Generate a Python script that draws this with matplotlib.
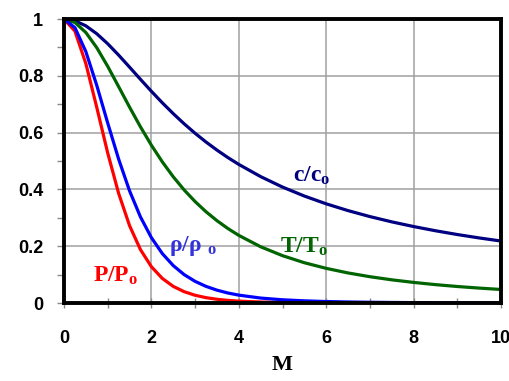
import matplotlib
matplotlib.use("Agg")
import matplotlib.pyplot as plt
from matplotlib.ticker import MultipleLocator

plt.rcParams['mathtext.fontset'] = 'custom'
plt.rcParams['mathtext.rm'] = 'Liberation Serif:bold'
plt.rcParams['mathtext.it'] = 'Liberation Serif:bold'
plt.rcParams['mathtext.bf'] = 'Liberation Serif:bold'

M = [0, 0.25, 0.5, 0.75, 1, 1.25, 1.5, 1.75, 2, 2.25, 2.5, 2.75, 3, 3.25, 3.5, 3.75,
     4, 4.5, 5, 5.5, 6, 6.5, 7, 7.5, 8, 8.5, 9, 9.5, 10]
c_c0 = [1, 0.9938, 0.9759, 0.9481, 0.9129, 0.8729, 0.8305, 0.7875, 0.7454, 0.7049,
        0.6667, 0.6309, 0.5976, 0.5668, 0.5384, 0.5121, 0.4880, 0.4450, 0.4082,
        0.3766, 0.3492, 0.3253, 0.3043, 0.2857, 0.2692, 0.2544, 0.2411, 0.2291, 0.2182]
T_T0 = [1, 0.9877, 0.9524, 0.8989, 0.8333, 0.7619, 0.6897, 0.6202, 0.5556, 0.4969,
        0.4444, 0.3980, 0.3571, 0.3213, 0.2899, 0.2623, 0.2381, 0.1980, 0.1667,
        0.1418, 0.1220, 0.1058, 0.0926, 0.0816, 0.0725, 0.0647, 0.0581, 0.0525, 0.0476]
rho_rho0 = [1, 0.9694, 0.8852, 0.7661, 0.6339, 0.5067, 0.3950, 0.3029, 0.2300, 0.1740,
            0.1317, 0.0999, 0.0762, 0.0585, 0.0452, 0.0352, 0.0277, 0.0174, 0.0113,
            0.0076, 0.0052, 0.0036, 0.0026, 0.0019, 0.0014, 0.0011, 0.0008, 0.0006, 0.0005]
P_P0 = [1, 0.9574, 0.8430, 0.6886, 0.5283, 0.3861, 0.2724, 0.1878, 0.1278, 0.0865,
        0.0585, 0.0398, 0.0272, 0.0188, 0.0131, 0.0092, 0.0066, 0.0035, 0.0019,
        0.0011, 0.0006, 0.0004, 0.0002, 0.0002, 0.0001, 0.0001, 0.0000, 0.0000, 0.0000]
x_ticks = [0, 2, 4, 6, 8, 10]
y_ticks = [0, 0.2, 0.4, 0.6, 0.8, 1]
y_labels = ['0', '0.2', '0.4', '0.6', '0.8', '1']

fig = plt.figure(figsize=(5.10, 3.81), dpi=100)
ax = fig.add_axes([64/510, 1-303/381, (501-64)/510, (303-19)/381])

lw = 2.3
ax.plot(M, c_c0, color='#000080', lw=lw, zorder=3)
ax.plot(M, T_T0, color='#006400', lw=lw, zorder=3)
ax.plot(M, P_P0, color='#ff0000', lw=lw, zorder=3)
ax.plot(M, rho_rho0, color='#0000ff', lw=lw, zorder=4)

ax.set_xlim(0, 10)
ax.set_ylim(0, 1)
ax.set_xticks(x_ticks)
ax.xaxis.set_minor_locator(MultipleLocator(1))
ax.set_yticks(y_ticks)
ax.set_yticklabels(y_labels)
ax.yaxis.set_minor_locator(MultipleLocator(0.1))
ax.grid(True, which='major', color='#a0a0a0', lw=1.1, zorder=1)

ax.tick_params(axis='x', which='both', direction='inout', length=7, width=1,
               color='#888888', pad=16)
ax.tick_params(axis='y', which='both', direction='out', length=5, width=1,
               color='#888888', pad=10)
for lab in ax.get_xticklabels() + ax.get_yticklabels():
    lab.set_fontfamily('Liberation Sans')
    lab.set_fontweight('bold')
    lab.set_fontsize(13)

for s in ax.spines.values():
    s.set_linewidth(2.8)
    s.set_color('black')
    s.set_zorder(5)

ax.set_xlabel('M', fontfamily='Liberation Serif', fontweight='bold', fontsize=16, labelpad=6)

ax.text(5.25, 0.45, r'$c/c_o$', color='#000080', fontsize=17, va='center', ha='left')
ax.text(4.95, 0.20, r'$T/T_o$', color='#006400', fontsize=17, va='center', ha='left')
ax.text(2.4, 0.20, r'$ρ/ρ\ _o$', color='#3333dd', fontsize=17, va='center', ha='left')
ax.text(0.67, 0.10, r'$P/P_o$', color='#ff0000', fontsize=17, va='center', ha='left')

fig.savefig('out.png', dpi=100)
